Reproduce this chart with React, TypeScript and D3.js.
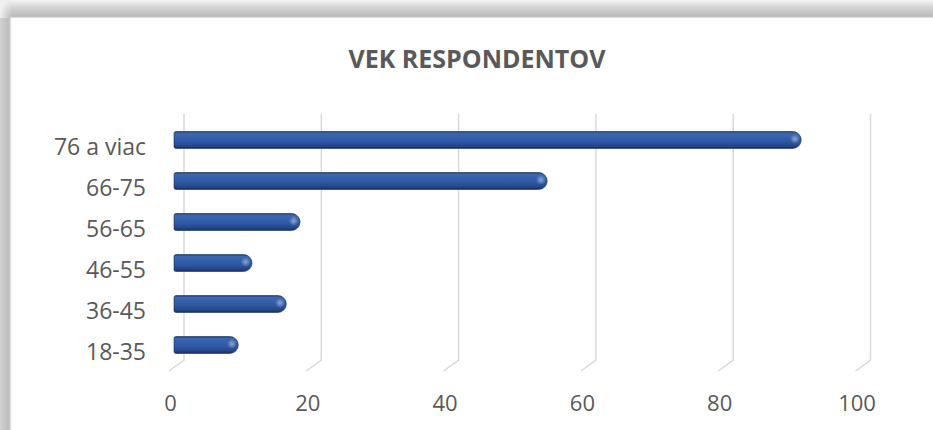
import React from "react";
import * as d3 from "d3";

const categories = ["76 a viac", "66-75", "56-65", "46-55", "36-45", "18-35"];
const values = [91, 54, 18, 11, 16, 9];
const ticks = [0, 20, 40, 60, 80, 100];
const title = "VEK RESPONDENTOV";

export default function App() {
  const W = 933;
  const H = 430;
  const x = d3.scaleLinear().domain([0, 100]).range([176.5, 863]);
  const y = d3.scaleBand<string>().domain(categories).range([119.5, 365.5]).padding(0);
  const depth = 7.5;
  const barH = 17;
  const r = barH / 2;
  const font = "'Open Sans', 'Liberation Sans', sans-serif";

  const barPath = (v: number, c: number) => {
    const x0 = x(0) - 2.5;
    const x1 = x(v);
    const y0 = c - r;
    const y1 = c + r;
    return `M${x0 + 2},${y0} H${x1 - r} A${r},${r} 0 0 1 ${x1 - r},${y1} H${x0 + 2} Q${x0},${y1} ${x0},${y1 - 2} V${y0 + 2} Q${x0},${y0} ${x0 + 2},${y0} Z`;
  };

  return (
    <svg width={W} height={H} style={{ position: "absolute", left: 0, top: 0, display: "block" }}>
      <defs>
        <linearGradient id="topShade" x1="0" y1="0" x2="0" y2="1">
          <stop offset="0%" stopColor="#f4f4f4" />
          <stop offset="45%" stopColor="#d2d2d2" />
          <stop offset="85%" stopColor="#bdbdbd" />
          <stop offset="100%" stopColor="#c2c2c2" />
        </linearGradient>
        <linearGradient id="leftShade" x1="0" y1="0" x2="1" y2="0">
          <stop offset="0%" stopColor="#d2d2d2" />
          <stop offset="70%" stopColor="#bebebe" />
          <stop offset="100%" stopColor="#c6c6c6" />
        </linearGradient>
        <radialGradient id="cornerShade" cx="1" cy="1" r="1">
          <stop offset="0%" stopColor="#bdbdbd" />
          <stop offset="100%" stopColor="#f0f0f0" />
        </radialGradient>
        <linearGradient id="barGrad" x1="0" y1="0" x2="0" y2="1">
          <stop offset="0%" stopColor="#1a3466" />
          <stop offset="10%" stopColor="#3c67b2" />
          <stop offset="30%" stopColor="#3662ad" />
          <stop offset="60%" stopColor="#2d579f" />
          <stop offset="85%" stopColor="#23468a" />
          <stop offset="100%" stopColor="#162c5a" />
        </linearGradient>
        <radialGradient id="capHi" cx="0.5" cy="0.5" r="0.5">
          <stop offset="0%" stopColor="#ffffff" stopOpacity="0.45" />
          <stop offset="100%" stopColor="#ffffff" stopOpacity="0" />
        </radialGradient>
      </defs>
      <rect x={0} y={0} width={W} height={H} fill="#ffffff" />
      <rect x={11} y={0} width={W} height={18} fill="url(#topShade)" />
      <rect x={0} y={18} width={11} height={H} fill="url(#leftShade)" />
      <rect x={0} y={0} width={11} height={18} fill="url(#cornerShade)" />
      <line x1={10.5} y1={17.5} x2={W} y2={17.5} stroke="#dedede" strokeWidth={1.2} />
      <line x1={10.5} y1={17.5} x2={10.5} y2={H} stroke="#dedede" strokeWidth={1.2} />

      <text x={477} y={68} textAnchor="middle" fontFamily={font} fontWeight="bold" fontSize={25} fill="#595959">
        {title}
      </text>

      {ticks.map((t) => (
        <g key={t}>
          <polyline
            points={`${x(t) + depth},114 ${x(t) + depth},360 ${x(t) - depth},371`}
            fill="none"
            stroke="#d9d9d9"
            strokeWidth={1.5}
          />
          <text x={x(t) - 6} y={411} textAnchor="middle" fontFamily={font} fontSize={22} fill="#595959">
            {t}
          </text>
        </g>
      ))}

      {categories.map((c, i) => {
        const cy = (y(c) as number) + y.bandwidth() / 2;
        const v = values[i];
        return (
          <g key={c}>
            <text x={146} y={cy + 15} textAnchor="end" fontFamily={font} fontSize={23} fill="#595959">
              {c}
            </text>
            <path d={barPath(v, cy)} fill="url(#barGrad)" stroke="#1a3060" strokeWidth={0.6} />
            <ellipse cx={x(v) - r * 0.75} cy={cy - 1} rx={5} ry={5} fill="url(#capHi)" />
          </g>
        );
      })}
    </svg>
  );
}
